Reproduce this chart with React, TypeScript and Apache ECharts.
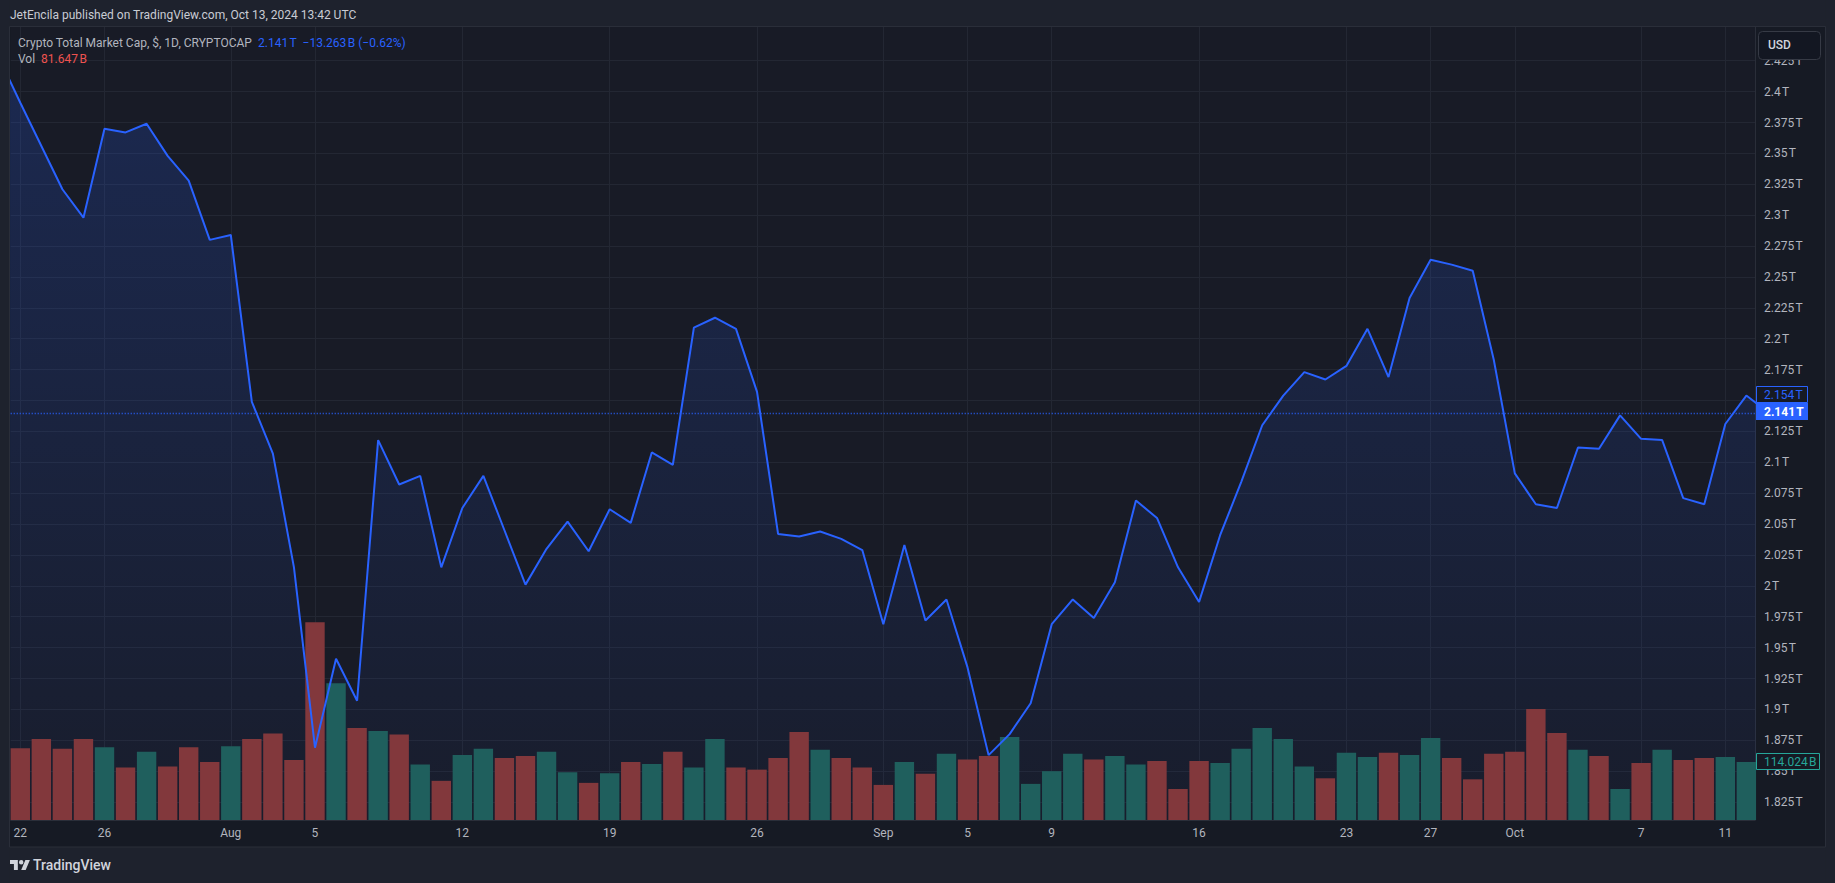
import React, { useEffect, useRef } from "react";
import * as echarts from "echarts";

// ---------- data ----------
const dates = [
  "2024-07-21","2024-07-22","2024-07-23","2024-07-24","2024-07-25","2024-07-26","2024-07-27","2024-07-28","2024-07-29","2024-07-30","2024-07-31",
  "2024-08-01","2024-08-02","2024-08-03","2024-08-04","2024-08-05","2024-08-06","2024-08-07","2024-08-08","2024-08-09","2024-08-10",
  "2024-08-11","2024-08-12","2024-08-13","2024-08-14","2024-08-15","2024-08-16","2024-08-17","2024-08-18","2024-08-19","2024-08-20",
  "2024-08-21","2024-08-22","2024-08-23","2024-08-24","2024-08-25","2024-08-26","2024-08-27","2024-08-28","2024-08-29","2024-08-30","2024-08-31",
  "2024-09-01","2024-09-02","2024-09-03","2024-09-04","2024-09-05","2024-09-06","2024-09-07","2024-09-08","2024-09-09","2024-09-10",
  "2024-09-11","2024-09-12","2024-09-13","2024-09-14","2024-09-15","2024-09-16","2024-09-17","2024-09-18","2024-09-19","2024-09-20",
  "2024-09-21","2024-09-22","2024-09-23","2024-09-24","2024-09-25","2024-09-26","2024-09-27","2024-09-28","2024-09-29","2024-09-30",
  "2024-10-01","2024-10-02","2024-10-03","2024-10-04","2024-10-05","2024-10-06","2024-10-07","2024-10-08","2024-10-09","2024-10-10",
  "2024-10-11","2024-10-12","2024-10-13",
];

// Total market cap, trillions USD (daily close)
const marketCapT = [
  2.427, 2.391, 2.356, 2.321, 2.298, 2.370, 2.367, 2.374, 2.348, 2.328, 2.280,
  2.284, 2.149, 2.107, 2.015, 1.869, 1.941, 1.907, 2.118, 2.082, 2.089,
  2.015, 2.063, 2.089, 2.045, 2.001, 2.030, 2.052, 2.028, 2.062, 2.051,
  2.108, 2.098, 2.209, 2.217, 2.208, 2.157, 2.042, 2.040, 2.044, 2.038, 2.029,
  1.969, 2.033, 1.972, 1.989, 1.934, 1.863, 1.880, 1.905, 1.969, 1.989,
  1.974, 2.003, 2.069, 2.055, 2.015, 1.987, 2.041, 2.084, 2.130, 2.154,
  2.173, 2.167, 2.178, 2.208, 2.169, 2.233, 2.264, 2.260, 2.255, 2.183,
  2.091, 2.066, 2.063, 2.112, 2.111, 2.138, 2.119, 2.118, 2.071, 2.066,
  2.131, 2.154, 2.141,
];

// Volume, billions USD
const volumeB = [
  90, 141, 159, 140, 159, 143, 103, 134, 105, 143, 114,
  145, 159, 170, 118, 389, 269, 181, 175, 168, 109,
  77, 128, 140, 122, 126, 134, 94, 73, 92, 114,
  110, 134, 103, 159, 103, 99, 122, 173, 138, 122, 103,
  69, 114, 91, 130, 119, 126, 163, 71, 96, 130,
  119, 126, 109, 116, 61, 116, 112, 140, 181, 159,
  105, 82, 132, 124, 132, 128, 161, 122, 80, 130,
  134, 218, 171, 138, 126, 61, 112, 138, 118, 122,
  124, 114.024, 81.647,
];

// 1 = up day (teal volume bar), 0 = down day (red volume bar)
const volumeUp = [
  0, 0, 0, 0, 0, 1, 0, 1, 0, 0, 0,
  1, 0, 0, 0, 0, 1, 0, 1, 0, 1,
  0, 1, 1, 0, 0, 1, 1, 0, 1, 0,
  1, 0, 1, 1, 0, 0, 0, 0, 1, 0, 0,
  0, 1, 0, 1, 0, 0, 1, 1, 1, 1,
  0, 1, 1, 0, 0, 0, 1, 1, 1, 1,
  1, 0, 1, 1, 0, 1, 1, 0, 0, 0,
  0, 0, 0, 1, 0, 1, 0, 1, 0, 0,
  1, 1, 0,
];

const priceTicks = [
  1.825, 1.85, 1.875, 1.9, 1.925, 1.95, 1.975, 2.0, 2.025, 2.05, 2.075, 2.1, 2.125,
  2.15, 2.175, 2.2, 2.225, 2.25, 2.275, 2.3, 2.325, 2.35, 2.375, 2.4, 2.425,
];

const timeTickDates = [
  "2024-07-22","2024-07-26","2024-08-01","2024-08-05","2024-08-12","2024-08-19","2024-08-26",
  "2024-09-01","2024-09-05","2024-09-09","2024-09-16","2024-09-23","2024-09-27",
  "2024-10-01","2024-10-07","2024-10-11",
];
const timeTickLabels = ["22","26","Aug","5","12","19","26","Sep","5","9","16","23","27","Oct","7","11"];

const lastPrice = 2.141;
const prevClose = 2.154;
const lastChangeText = "\u221213.263\u202FB (\u22120.62%)";
const lastVolumeText = "81.647\u202FB";
const lastVisibleDate = "2024-10-12";

// visible window on the day axis (index units of `dates`)
const viewMin = 0.544;
const viewMax = 83.41;

// ---------- style ----------
const FONT = "Roboto, 'Noto Sans', 'DejaVu Sans', sans-serif";
const BLUE = "#2962ff";
const TEAL_BAR = "#1f5f5d";
const RED_BAR = "#82383c";
const AXIS_TEXT = "#b2b5be";
const GRID_LINE = "#232733";
const BORDER = "#2a2e39";
const OUTER = "#1e222d";

const fmtT = (v: number) => `${parseFloat(v.toFixed(3))}\u202FT`;

let logoRegistered = false;

export default function App() {
  const ref = useRef<HTMLDivElement>(null);

  useEffect(() => {
    const el = ref.current;
    if (!el) return;
    if (!logoRegistered) {
      echarts.graphic.registerShape(
        "tvlogo",
        echarts.graphic.extendPath(
          "M14 22H7V11H0V4h14v18zM28 22h-8l7.5-18h8L28 22zM16 8a4 4 0 1 0 8 0a4 4 0 1 0 -8 0z",
          {}
        ) as any
      );
      logoRegistered = true;
    }
    const chart = echarts.init(el, null, { renderer: "svg" });

    const tickIdx = timeTickDates.map((d) => dates.indexOf(d));
    const labelByIdx = new Map<number, string>();
    tickIdx.forEach((k, j) => labelByIdx.set(k, timeTickLabels[j]));

    // price labels hidden where the price tags sit (as TradingView does)
    const priceLabelTicks = priceTicks.filter(
      (v) => Math.abs(v - lastPrice) > 0.012 && Math.abs(v - prevClose) > 0.012
    );

    const lineData = marketCapT.map((v, i) => [i, v]);
    const volData = volumeB
      .map((v, i) => ({
        value: [i, v],
        itemStyle: { color: volumeUp[i] ? TEAL_BAR : RED_BAR },
      }))
      .filter((d) => d.value[0] >= viewMin && d.value[0] <= viewMax);

    chart.setOption({
      animation: false,
      backgroundColor: "#161a24",
      grid: {
        left: 10.7,
        top: 27,
        right: 80,
        bottom: 63,
        show: true,
        backgroundColor: "#181b26",
        borderWidth: 0,
      },
      xAxis: {
        type: "value",
        min: viewMin,
        max: viewMax,
        axisLine: { show: true, onZero: false, lineStyle: { color: BORDER, width: 1 } },
        axisTick: { show: false, customValues: tickIdx },
        axisLabel: {
          customValues: tickIdx,
          formatter: (v: number) => labelByIdx.get(Math.round(v)) ?? "",
          color: AXIS_TEXT,
          fontSize: 12,
          fontFamily: FONT,
          margin: 7,
        },
        splitLine: { show: true, lineStyle: { color: GRID_LINE, width: 1 } },
      },
      yAxis: [
        {
          type: "value",
          position: "right",
          min: 1.8105,
          max: 2.4523,
          axisLine: { show: true, lineStyle: { color: BORDER, width: 1 } },
          axisTick: { show: false, customValues: priceTicks },
          axisLabel: {
            customValues: priceLabelTicks,
            formatter: (v: number) => fmtT(v),
            color: AXIS_TEXT,
            fontSize: 12,
            fontFamily: FONT,
            margin: 9,
          },
          splitLine: { show: true, lineStyle: { color: GRID_LINE, width: 1 } },
        },
        {
          type: "value",
          min: 0,
          max: 1559,
          show: false,
          splitLine: { show: false },
        },
      ],
      series: [
        {
          type: "line",
          name: "area",
          data: lineData,
          symbol: "none",
          z: 1,
          lineStyle: { width: 0, opacity: 0 },
          areaStyle: {
            origin: "start",
            color: new echarts.graphic.LinearGradient(0, 0, 0, 1, [
              { offset: 0, color: "rgba(41,98,255,0.28)" },
              { offset: 1, color: "rgba(41,98,255,0.04)" },
            ]),
          },
          silent: true,
        },
        {
          type: "bar",
          name: "Vol",
          yAxisIndex: 1,
          data: volData,
          barWidth: 19.4,
          clip: true,
          z: 2,
          silent: true,
        },
        {
          type: "line",
          name: "Crypto Total Market Cap",
          data: lineData,
          symbol: "none",
          z: 3,
          lineStyle: { color: BLUE, width: 2 },
          silent: true,
          markLine: {
            silent: true,
            symbol: ["none", "none"],
            label: { show: false },
            lineStyle: { color: BLUE, type: [1, 2], width: 1.3, opacity: 1 },
            data: [{ yAxis: lastPrice }],
          },
        },
      ],
    });

    const yLast = chart.convertToPixel({ yAxisIndex: 0 }, lastPrice) as number;
    const yPrev = chart.convertToPixel({ yAxisIndex: 0 }, prevClose) as number;
    const lastVisIdx = dates.indexOf(lastVisibleDate);
    const yVol = chart.convertToPixel({ yAxisIndex: 1 }, volumeB[lastVisIdx]) as number;

    const Z = 100;
    chart.setOption({
      graphic: [
        // outer frame bands
        { type: "rect", z: Z, shape: { x: 0, y: 0, width: 1835, height: 26 }, style: { fill: OUTER } },
        { type: "rect", z: Z, shape: { x: 0, y: 847, width: 1835, height: 36 }, style: { fill: OUTER } },
        { type: "rect", z: Z, shape: { x: 0, y: 0, width: 9.5, height: 883 }, style: { fill: OUTER } },
        { type: "rect", z: Z, shape: { x: 1825.5, y: 0, width: 9.5, height: 883 }, style: { fill: OUTER } },
        {
          type: "rect", z: Z,
          shape: { x: 9.5, y: 26.5, width: 1816, height: 820.5 },
          style: { fill: "none", stroke: BORDER, lineWidth: 1 },
        },
        // header
        {
          type: "text", z: Z, x: 10, y: 14.5,
          style: {
            text: "JetEncila published on TradingView.com, Oct 13, 2024 13:42 UTC",
            fill: "#c9ccd4", font: `12px ${FONT}`, textVerticalAlign: "middle",
          },
        },
        // legend
        {
          type: "text", z: Z, x: 18, y: 42.5,
          style: {
            text: `{a|Crypto Total Market Cap, $, 1D, CRYPTOCAP}  {b|${lastPrice}\u202FT}  {b|${lastChangeText}}`,
            font: `12px ${FONT}`, textVerticalAlign: "middle",
            rich: {
              a: { fill: AXIS_TEXT, color: AXIS_TEXT, fontSize: 12, fontFamily: FONT },
              b: { fill: BLUE, color: BLUE, fontSize: 12, fontFamily: FONT },
            },
          },
        },
        {
          type: "text", z: Z, x: 18, y: 59,
          style: {
            text: `{a|Vol}  {c|${lastVolumeText}}`,
            font: `12px ${FONT}`, textVerticalAlign: "middle",
            rich: {
              a: { fill: AXIS_TEXT, color: AXIS_TEXT, fontSize: 12, fontFamily: FONT },
              c: { fill: "#ef5350", color: "#ef5350", fontSize: 12, fontFamily: FONT },
            },
          },
        },
        // USD box
        {
          type: "rect", z: Z,
          shape: { x: 1758.5, y: 31.5, width: 62, height: 28, r: 4 },
          style: { fill: "#131722", stroke: "#363a45", lineWidth: 1 },
        },
        {
          type: "text", z: Z + 1, x: 1768, y: 45,
          style: { text: "USD", fill: "#d1d4dc", font: `500 12px ${FONT}`, textVerticalAlign: "middle" },
        },
        // previous close tag
        {
          type: "rect", z: Z,
          shape: { x: 1756.5, y: Math.round(yPrev) - 9.5, width: 51, height: 16 },
          style: { fill: "#161a24", stroke: BLUE, lineWidth: 1 },
        },
        {
          type: "text", z: Z + 1, x: 1764, y: Math.round(yPrev) - 1.5,
          style: { text: fmtT(prevClose), fill: BLUE, font: `12px ${FONT}`, textVerticalAlign: "middle" },
        },
        // last price tag
        {
          type: "rect", z: Z,
          shape: { x: 1756, y: Math.round(yLast) - 9, width: 52, height: 17 },
          style: { fill: BLUE },
        },
        {
          type: "text", z: Z + 1, x: 1764, y: Math.round(yLast) - 0.5,
          style: { text: fmtT(lastPrice), fill: "#ffffff", font: `bold 12px ${FONT}`, textVerticalAlign: "middle" },
        },
        // volume tag
        {
          type: "rect", z: Z,
          shape: { x: 1756.5, y: Math.round(yVol) - 8.5, width: 63, height: 16 },
          style: { fill: "#161a24", stroke: "#26a69a", lineWidth: 1 },
        },
        {
          type: "text", z: Z + 1, x: 1764, y: Math.round(yVol) - 0.5,
          style: {
            text: `${volumeB[lastVisIdx]}\u202FB`, fill: "#26a69a", font: `12px ${FONT}`, textVerticalAlign: "middle",
          },
        },
        // TradingView logo + wordmark
        {
          type: "tvlogo", z: Z + 2, x: 10, y: 857.8, scaleX: 0.56, scaleY: 0.56,
          style: { fill: "#d1d4dc" },
        },
        {
          type: "text", z: Z + 2, x: 33, y: 865,
          style: { text: "TradingView", fill: "#d1d4dc", font: `500 14px ${FONT}`, textVerticalAlign: "middle" },
        },
      ],
    } as any);

    return () => {
      chart.dispose();
    };
  }, []);

  return (
    <div
      ref={ref}
      style={{ position: "fixed", left: 0, top: 0, width: 1835, height: 883 }}
    />
  );
}
